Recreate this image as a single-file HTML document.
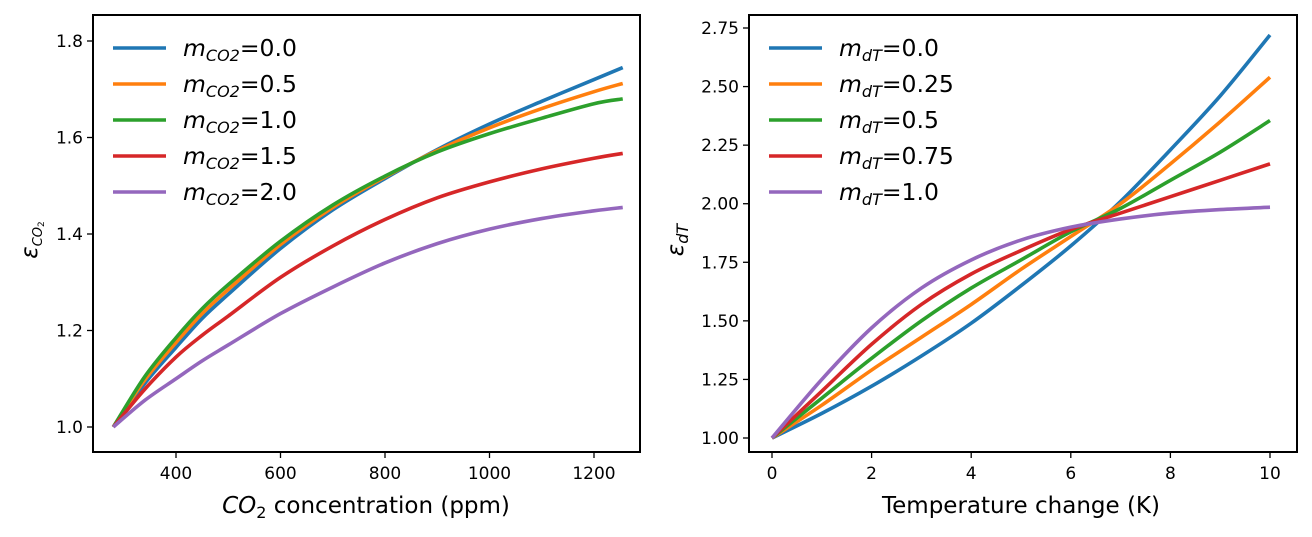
<!DOCTYPE html>
<html><head><meta charset="utf-8"><style>
body{margin:0;background:#fff;}
svg text{font-family:"DejaVu Sans","Liberation Sans",sans-serif;fill:#000;}
</style></head><body>
<svg id="chart" width="1312" height="532" viewBox="0 0 1312 532" xmlns="http://www.w3.org/2000/svg">
<g id="left"></g>
<g id="right"></g>
</svg>
<script>
const colors=["#1f77b4","#ff7f0e","#2ca02c","#d62728","#9467bd"];
const co2X=[280,340,400,450,500,600,700,800,900,1000,1100,1200,1255];
const co2M0=[1.0,1.09,1.165,1.225,1.275,1.37,1.45,1.515,1.575,1.628,1.675,1.72,1.745];
const co2M05=[1.0,1.097,1.175,1.235,1.285,1.378,1.455,1.518,1.573,1.62,1.66,1.695,1.712];
const co2M1=[1.0,1.104,1.185,1.245,1.295,1.385,1.46,1.52,1.57,1.608,1.64,1.67,1.68];
const co2M15=[1.0,1.078,1.145,1.19,1.23,1.31,1.375,1.43,1.475,1.508,1.535,1.557,1.567];
const co2M2=[1.0,1.055,1.10,1.137,1.17,1.235,1.29,1.34,1.38,1.41,1.432,1.448,1.455];
const co2Labels=["0.0","0.5","1.0","1.5","2.0"];
const co2XTicks=[400,600,800,1000,1200];
const co2YTicks=[1.0,1.2,1.4,1.6,1.8];
const dtX=[0,1,2,3,4,5,6,7,8,9,10];
const dtM0=[1,1.105,1.221,1.35,1.49,1.65,1.82,2.01,2.23,2.46,2.72];
const dtM025=[1,1.14,1.29,1.43,1.57,1.72,1.86,2.0,2.17,2.35,2.54];
const dtM05=[1,1.17,1.34,1.50,1.64,1.76,1.88,1.98,2.10,2.22,2.355];
const dtM075=[1,1.20,1.40,1.57,1.70,1.80,1.89,1.96,2.03,2.10,2.17];
const dtM1=[1,1.25,1.47,1.64,1.76,1.845,1.90,1.935,1.96,1.975,1.985];
const dtLabels=["0.0","0.25","0.5","0.75","1.0"];
const dtXTicks=[0,2,4,6,8,10];
const dtYTicks=[1.00,1.25,1.50,1.75,2.00,2.25,2.50,2.75];
const NS="http://www.w3.org/2000/svg";
function mk(tag,attrs,parent){const e=document.createElementNS(NS,tag);for(const k in attrs)e.setAttribute(k,attrs[k]);parent.appendChild(e);return e;}
function smoothPath(pts){let d="M"+pts[0][0]+","+pts[0][1];for(let i=0;i<pts.length-1;i++){const p0=pts[Math.max(i-1,0)],p1=pts[i],p2=pts[i+1],p3=pts[Math.min(i+2,pts.length-1)];const c1=[p1[0]+(p2[0]-p0[0])/6,p1[1]+(p2[1]-p0[1])/6],c2=[p2[0]-(p3[0]-p1[0])/6,p2[1]-(p3[1]-p1[1])/6];d+=" C"+c1+" "+c2+" "+p2;}return d;}
function panel(g,cfg){
  const sx=v=>cfg.x0px+(v-cfg.x0)*(cfg.x1px-cfg.x0px)/(cfg.x1-cfg.x0);
  const sy=v=>cfg.y0px+(v-cfg.y0)*(cfg.y1px-cfg.y0px)/(cfg.y1-cfg.y0);
  cfg.series.forEach((s,i)=>{
    const p=mk("path",{d:smoothPath(cfg.xs.map((x,j)=>[sx(x),sy(s[j])])),fill:"none",stroke:colors[i],"stroke-width":3.6},g);
    
    
  });
  const b=cfg.box;
  const r=mk("rect",{x:b[0],y:b[1],width:b[2]-b[0],height:b[3]-b[1],fill:"none",stroke:"#000","stroke-width":2},g);
  
  
  cfg.xt.forEach(t=>{
    const x=sx(t);
    mk("line",{x1:x,x2:x,y1:b[3],y2:b[3]+6,stroke:"#000","stroke-width":1.3},g);
    const tx=mk("text",{x:x,y:b[3]+27,"font-size":17,"text-anchor":"middle"},g);tx.textContent=String(t);
    
    
  });
  cfg.yt.forEach(t=>{
    const y=sy(t);
    mk("line",{x1:b[0]-6,x2:b[0],y1:y,y2:y,stroke:"#000","stroke-width":1.3},g);
    const tx=mk("text",{x:b[0]-10,y:y+6,"font-size":17,"text-anchor":"end"},g);tx.textContent=t.toFixed(cfg.yd);
    
    
  });
  cfg.labels.forEach((l,i)=>{
    const y=48+i*36;
    const ln=mk("line",{x1:cfg.lgx,x2:cfg.lgx+53,y1:y,y2:y,stroke:colors[i],"stroke-width":3.6},g);
    
    
    const tx=mk("text",{x:cfg.lgx+70,y:y+8,"font-size":23.5},g);
    tx.innerHTML='<tspan font-style="italic">m</tspan><tspan font-style="italic" font-size="16" dy="5">'+cfg.sub+'</tspan><tspan dy="-5">='+l+'</tspan>';
    
    
  });
}
panel(document.getElementById("left"),{xs:co2X,series:[co2M0,co2M05,co2M1,co2M15,co2M2],x0:400,x1:1200,x0px:176,x1px:594,y0:1.0,y1:1.8,y0px:427,y1px:41,box:[93,15,640,452],xt:co2XTicks,yt:co2YTicks,yd:1,labels:co2Labels,sub:"CO2",lgx:113});
panel(document.getElementById("right"),{xs:dtX,series:[dtM0,dtM025,dtM05,dtM075,dtM1],x0:0,x1:10,x0px:772,x1px:1270,y0:1.0,y1:2.75,y0px:438,y1px:28,box:[749,15,1297,452],xt:dtXTicks,yt:dtYTicks,yd:2,labels:dtLabels,sub:"dT",lgx:769});
</script>
<div style="position:absolute;left:0;top:0;width:1312px;height:532px;pointer-events:none">
<svg width="1312" height="532" style="position:absolute;left:0;top:0">
<text x="366" y="513" font-size="23" text-anchor="middle" style="font-family:'DejaVu Sans',sans-serif"><tspan font-style="italic">CO</tspan><tspan font-size="16" dy="5">2</tspan><tspan dy="-5"> concentration (ppm)</tspan></text>
<text x="1021" y="513" font-size="23" text-anchor="middle" style="font-family:'DejaVu Sans',sans-serif">Temperature change (K)</text>
<text transform="translate(37,240) rotate(-90)" font-size="23" text-anchor="middle" style="font-family:'DejaVu Sans',sans-serif"><tspan font-style="italic">ε</tspan><tspan font-style="italic" font-size="13" dy="5">CO</tspan><tspan font-size="9" dy="2">2</tspan></text>
<text transform="translate(683,240) rotate(-90)" font-size="23" text-anchor="middle" style="font-family:'DejaVu Sans',sans-serif"><tspan font-style="italic">ε</tspan><tspan font-style="italic" font-size="16" dy="5">dT</tspan></text>
</svg></div>
</body></html>
